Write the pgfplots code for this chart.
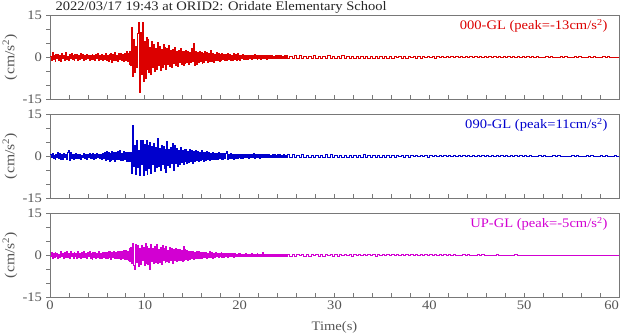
\documentclass[border=0pt]{standalone}
\usepackage{fontspec}
\setmainfont{Liberation Serif}[FakeStretch=1.12]
\usepackage{pgfplots}
\usepackage{pgfplotstable}
\pgfplotsset{compat=1.18}
\definecolor{trA}{RGB}{220,0,0}
\definecolor{trB}{RGB}{0,0,205}
\definecolor{trC}{RGB}{210,0,210}
\definecolor{fr}{RGB}{120,120,120}
\definecolor{tx}{RGB}{85,85,85}

\pgfplotstableread{
t a b c
0.0 0.3 0.5 -0.4
0.1 -1.2 -0.6 0.9
0.2 1.8 1.0 -1.2
0.3 -0.8 -0.9 0.6
0.4 0.5 0.4 -0.8
0.5 -1.4 -1.1 1.1
0.6 0.9 0.8 -0.5
0.7 -0.3 -0.4 0.8
0.8 1.1 1.2 -1.3
0.9 -1.0 -0.7 0.4
1.0 0.6 0.9 -0.9
1.1 -1.6 -1.3 1.4
1.2 1.3 0.6 -0.6
1.3 -0.5 -1.0 0.7
1.4 0.8 1.1 -1.1
1.5 -1.1 -0.5 0.9
1.6 1.6 0.7 -0.7
1.7 -0.7 -1.2 1.2
1.8 0.4 1.4 -0.9
1.9 -1.3 2.1 0.5
2.0 1.0 -1.4 -1.0
2.1 -0.6 1.2 1.3
2.2 1.2 -0.9 -0.6
2.3 -0.9 0.8 0.8
2.4 0.7 -1.1 -1.2
2.5 -1.2 0.6 1.0
2.6 0.9 -0.8 -0.4
2.7 -0.4 1.0 0.7
2.8 1.1 -0.7 -1.1
2.9 -1.0 0.5 1.2
3.0 0.5 -0.9 -0.8
3.1 -0.8 0.7 0.6
3.2 1.2 -1.0 -1.3
3.3 -0.6 0.4 0.9
3.4 0.9 -0.6 -0.7
3.5 -1.1 0.9 1.4
3.6 0.6 -0.8 -0.9
3.7 -0.9 0.6 0.7
3.8 1.0 -1.2 -1.2
3.9 -0.5 0.8 1.0
4.0 0.8 -0.5 -0.6
4.1 -1.2 1.0 1.3
4.2 0.7 -0.9 -1.0
4.3 -0.8 0.5 0.8
4.4 1.1 -0.7 -1.4
4.5 -0.7 0.9 0.9
4.6 0.5 -1.0 -0.7
4.7 -1.0 0.6 1.1
4.8 0.9 -0.8 -1.2
4.9 -0.6 1.1 0.6
5.0 1.2 -0.6 -0.9
5.1 -1.1 0.8 1.2
5.2 0.8 -0.9 -1.1
5.3 -0.7 0.7 0.8
5.4 1.0 -1.0 -1.3
5.5 -1.3 0.9 1.0
5.6 0.6 -0.7 -0.8
5.7 -0.9 1.2 1.1
5.8 1.4 -1.5 -1.2
5.9 -1.0 1.8 0.9
6.0 0.8 -1.2 -1.0
6.1 -1.5 1.3 1.3
6.2 1.1 -1.9 -0.9
6.3 -0.8 1.0 1.2
6.4 1.3 -1.4 -1.4
6.5 -1.7 1.6 1.1
6.6 0.9 -1.1 -0.8
6.7 -1.1 1.4 1.3
6.8 1.6 -1.8 -1.2
6.9 -1.2 1.2 1.0
7.0 0.7 -1.0 -1.1
7.1 -1.4 1.7 1.4
7.2 1.2 -1.3 -1.0
7.3 -0.9 1.9 1.2
7.4 1.5 -1.5 -1.5
7.5 -1.3 1.1 1.3
7.6 1.0 -1.6 -1.2
7.7 -1.6 1.8 1.6
7.8 1.4 -1.2 -1.4
7.9 -1.1 1.5 1.8
8.0 1.9 -1.7 -1.6
8.1 -1.5 1.4 1.5
8.2 1.3 -1.9 -2.0
8.3 -2.5 1.2 2.4
8.4 2.2 -2.0 -2.2
8.5 -3.0 1.5 2.8
8.6 10.8 -6.0 -3.0
8.7 -7.0 11.0 4.3
8.8 6.2 -3.5 -3.5
8.9 -5.5 4.0 -5.2
9.0 4.0 -6.5 3.8
9.1 -3.5 5.5 -2.6
9.2 8.5 -4.0 3.4
9.3 12.4 2.0 -4.0
9.4 -12.4 -6.8 2.5
9.5 9.0 5.8 -3.2
9.6 -6.0 -3.0 3.6
9.7 12.5 5.6 -2.0
9.8 -8.8 -7.0 2.9
9.9 5.5 4.2 -3.6
10.0 -7.4 -5.0 4.2
10.1 7.0 5.5 -2.8
10.2 -4.5 -6.5 3.0
10.3 6.5 3.8 -3.3
10.4 -5.5 -4.5 2.4
10.5 3.5 5.0 -5.0
10.6 -6.2 -6.0 3.8
10.7 5.8 3.5 -2.2
10.8 -3.8 -3.0 2.6
10.9 4.5 4.5 -2.9
11.0 -5.0 -5.5 3.2
11.1 3.2 3.0 -2.5
11.2 -4.2 -4.0 3.9
11.3 5.2 6.2 -3.0
11.4 -3.0 -3.5 2.1
11.5 4.0 2.8 -2.7
11.6 -4.8 -5.2 2.8
11.7 2.8 4.0 -3.4
11.8 -3.5 -3.0 3.5
11.9 4.6 3.5 -2.0
12.0 -2.6 -4.5 2.4
12.1 3.4 2.6 -2.6
12.2 -4.5 -5.8 3.3
12.3 3.0 5.4 -2.2
12.4 -2.4 -3.2 1.8
12.5 4.2 2.4 -2.5
12.6 -3.2 -4.0 2.9
12.7 2.4 3.0 -2.0
12.8 -3.8 -2.6 2.5
12.9 2.7 4.6 -2.8
13.0 -2.2 -5.0 2.1
13.1 3.6 3.8 -1.8
13.2 -2.9 -2.5 2.6
13.3 2.1 2.8 -2.3
13.4 -3.3 -3.6 1.9
13.5 2.6 2.2 -2.0
13.6 -2.0 -2.8 2.2
13.7 3.0 3.3 -1.7
13.8 -2.6 -2.2 1.6
13.9 2.2 2.0 -2.1
14.0 -2.8 -3.0 3.2
14.1 1.9 2.6 -1.8
14.2 -2.3 -1.9 2.0
14.3 2.5 2.4 -1.5
14.4 -1.8 -2.6 1.7
14.5 2.2 1.8 -1.9
14.6 -2.6 -2.2 1.4
14.7 1.7 2.5 -1.6
14.8 -2.0 -1.7 1.5
14.9 3.0 2.1 -1.2
15.0 -1.6 -2.4 1.3
15.1 4.8 1.6 -1.5
15.2 -3.0 -1.9 1.1
15.3 2.0 2.0 -1.3
15.4 -2.4 -1.5 1.2
15.5 1.6 1.7 -1.0
15.6 -1.9 -2.0 1.3
15.7 2.1 1.4 -1.1
15.8 -1.5 -1.6 0.9
15.9 1.8 1.9 -1.2
16.0 -2.2 -1.3 1.0
16.1 1.4 1.5 -0.9
16.2 -1.7 -1.8 1.1
16.3 2.0 1.2 -0.8
16.4 -1.3 -1.4 1.0
16.5 1.6 1.6 -1.1
16.6 -1.9 -1.1 0.8
16.7 1.2 1.3 -0.9
16.8 -1.5 -1.5 1.2
16.9 2.3 1.0 -0.7
17.0 -1.4 -1.2 0.9
17.1 1.5 1.4 -1.0
17.2 -1.8 -1.0 0.7
17.3 1.1 1.1 -0.8
17.4 -1.3 -1.3 1.0
17.5 1.7 0.9 -0.6
17.6 -1.0 -1.1 0.8
17.7 1.3 1.2 -0.9
17.8 -1.6 -0.8 0.7
17.9 1.0 1.0 -0.6
18.0 -1.2 -1.2 0.9
18.1 1.4 0.9 -0.7
18.2 -0.9 -1.0 0.6
18.3 1.1 1.1 -0.8
18.4 -1.3 -0.8 0.7
18.5 0.9 1.0 -0.5
18.6 -1.1 1.6 0.6
18.7 1.2 -1.1 -0.7
18.8 -0.8 0.8 0.5
18.9 1.0 -0.9 -0.6
19.0 -1.2 0.9 0.8
19.1 0.8 -0.7 -0.5
19.2 -1.0 0.8 0.6
19.3 1.3 -1.0 -0.7
19.4 -0.7 0.7 0.5
19.5 0.9 -0.8 -0.6
19.6 -1.1 0.6 0.4
19.7 1.4 -0.9 -0.5
19.8 -0.8 0.7 0.6
19.9 0.7 -0.6 -0.4
20.0 -1.0 0.8 0.5
20.1 0.8 -0.7 -0.5
20.2 -0.6 0.6 0.4
20.3 0.9 -0.8 -0.5
20.4 -0.7 0.5 0.3
20.5 0.6 -0.6 -0.4
20.6 -0.9 0.7 0.5
20.7 0.5 -0.5 -0.3
20.8 -0.7 0.6 0.4
20.9 0.8 -0.7 -0.5
21.0 -0.5 0.5 0.3
21.1 0.7 -0.6 -0.4
21.2 -0.8 0.8 0.5
21.3 0.6 -0.5 -0.3
21.4 -0.6 0.9 0.4
21.5 0.9 -0.7 -0.5
21.6 -0.5 0.6 0.3
21.7 0.7 -0.5 -0.4
21.8 -0.8 0.7 0.5
21.9 0.5 -0.6 -0.3
22.0 -0.6 0.5 0.4
22.1 0.8 -0.7 -0.5
22.2 -0.7 0.6 0.3
22.3 0.5 -0.5 -0.4
22.4 -0.6 0.7 0.9
22.5 0.7 -0.6 -0.5
22.6 -0.5 0.5 0.4
22.7 0.6 -0.6 -0.3
22.8 -0.7 0.5 0.4
22.9 0.5 -0.4 -0.3
23.0 -0.6 0.6 0.3
23.1 0.7 -0.5 -0.4
23.2 -0.4 0.4 0.3
23.3 0.6 -0.6 -0.3
23.4 -0.5 0.5 0.4
23.5 0.4 -0.4 -0.3
23.6 -0.6 0.6 0.3
23.7 0.5 -0.5 -0.4
23.8 -0.4 0.4 0.3
23.9 0.6 -0.5 -0.3
24.0 -0.5 0.6 0.4
24.1 0.7 -0.4 -0.3
24.2 -0.4 0.5 0.3
24.3 0.5 -0.6 -0.4
24.4 -0.6 0.4 0.3
24.5 0.4 -0.5 -0.3
24.6 -0.5 0.5 0.4
24.7 0.6 -0.4 -0.3
24.8 -0.4 0.4 0.2
24.9 0.5 -0.5 -0.3
25.00 -0.6 0.5 0.3
25.25 0.4 -0.4 -0.3
25.50 -0.5 0.5 0.3
25.75 0.5 -0.5 -0.3
26.00 -0.4 0.4 0.3
26.25 0.6 -0.4 -0.2
26.50 -0.4 0.5 0.3
26.75 0.4 -0.4 -0.3
27.00 -0.5 0.4 0.2
27.25 0.4 -0.5 -0.3
27.50 -0.4 0.4 0.3
27.75 0.5 -0.4 -0.2
28.00 -0.4 0.4 0.3
28.25 0.4 -0.4 -0.3
28.50 -0.5 0.3 0.2
28.75 0.4 -0.4 -0.3
29.00 -0.4 0.5 0.3
29.25 0.5 -0.4 -0.2
29.50 -0.3 0.6 0.3
29.75 0.4 -0.4 -0.3
30.00 -0.4 0.4 0.2
30.25 0.3 -0.3 -0.3
30.50 -0.4 0.4 0.2
30.75 0.5 -0.3 -0.2
31.00 -0.3 0.4 0.3
31.25 0.4 -0.4 -0.2
31.50 -0.4 0.3 0.2
31.75 0.3 -0.4 -0.3
32.00 -0.4 0.3 0.2
32.25 0.4 -0.3 -0.2
32.50 -0.3 0.4 0.2
32.75 0.4 -0.5 -0.2
33.00 -0.3 0.5 0.3
33.25 0.3 -0.3 -0.2
33.50 -0.4 0.3 0.2
33.75 0.3 -0.4 -0.2
34.00 -0.3 0.3 0.2
34.25 0.4 -0.3 -0.3
34.50 -0.3 0.3 0.2
34.75 0.3 -0.3 -0.2
35.00 -0.3 0.4 0.3
35.25 0.3 -0.3 -0.2
35.50 -0.3 0.3 0.2
35.75 0.2 -0.3 -0.2
36.00 -0.3 0.2 0.2
36.25 0.3 -0.3 -0.2
36.50 -0.2 0.3 0.3
36.75 0.3 -0.2 -0.2
37.00 -0.3 0.3 0.2
37.25 0.2 -0.3 -0.2
37.50 -0.3 0.2 0.2
37.75 0.3 -0.3 -0.2
38.00 -0.2 0.3 0.2
38.25 0.3 -0.2 -0.2
38.50 -0.3 0.3 0.2
38.75 0.2 -0.2 -0.2
39.00 -0.3 0.3 0.2
39.25 0.2 -0.2 -0.2
39.50 -0.2 0.2 0.2
39.75 0.3 -0.3 -0.2
40.00 -0.2 0.2 0.2
40.25 0.2 -0.2 -0.2
40.50 -0.3 0.3 0.2
40.75 0.2 -0.2 -0.2
41.00 -0.2 0.2 0.2
41.25 0.3 -0.2 -0.2
41.50 -0.2 0.3 0.2
41.75 0.2 -0.2 -0.2
42.00 -0.2 0.2 0.2
42.25 0.2 -0.2 -0.1
42.50 -0.2 0.2 0.2
42.75 0.3 -0.2 -0.2
43.00 -0.2 0.2 0.1
43.25 0.2 -0.2 -0.2
43.50 -0.2 0.2 0.2
43.75 0.2 -0.2 -0.1
44.00 -0.2 0.2 0.2
44.25 0.2 -0.2 -0.2
44.50 -0.2 0.2 0.1
44.75 0.2 -0.2 -0.2
45.00 -0.2 0.2 0.2
45.25 0.2 -0.2 -0.1
45.50 -0.2 0.2 0.2
45.75 0.2 -0.2 -0.2
46.00 -0.2 0.2 0.1
46.25 0.2 -0.2 -0.2
46.50 -0.2 0.2 0.1
46.75 0.2 -0.2 -0.1
47.00 -0.2 0.2 0.2
47.25 0.2 -0.2 -0.1
47.50 -0.2 0.2 0.1
47.75 0.2 -0.2 -0.2
48.00 -0.2 0.2 0.1
48.25 0.2 -0.2 -0.1
48.50 -0.2 0.2 0.1
48.75 0.2 -0.2 -0.1
49.00 -0.2 0.2 0.2
49.25 0.2 -0.2 -0.1
49.50 -0.2 0.2 0.1
49.75 0.2 -0.2 -0.1
50.00 -0.2 0.2 0.1
50.25 0.2 -0.1 -0.1
50.50 -0.2 0.2 0.1
50.75 0.2 -0.2 -0.1
51.00 -0.1 0.1 0.1
51.25 0.2 -0.2 -0.1
51.50 -0.2 0.2 0.1
51.75 0.1 -0.1 -0.1
52.00 -0.2 0.2 0.1
52.25 0.2 -0.2 -0.1
52.50 -0.1 0.1 0.1
52.75 0.2 -0.2 -0.1
53.00 -0.2 0.2 0.1
53.25 0.1 -0.1 -0.1
53.50 -0.2 0.2 0.1
53.75 0.2 -0.2 -0.1
54.00 -0.1 0.1 0.1
54.25 0.2 -0.2 -0.1
54.50 -0.2 0.1 0.1
54.75 0.1 -0.2 -0.1
55.00 -0.2 0.2 0.1
55.25 0.2 -0.1 -0.1
55.50 -0.1 0.2 0.1
55.75 0.2 -0.2 -0.1
56.00 -0.2 0.1 0.1
56.25 0.1 -0.2 -0.1
56.50 -0.2 0.2 0.1
56.75 0.2 -0.1 -0.1
57.00 -0.1 0.2 0.1
57.25 0.2 -0.2 -0.1
57.50 -0.2 0.1 0.1
57.75 0.1 -0.2 -0.1
58.00 -0.2 0.2 0.1
58.25 0.2 -0.1 -0.1
58.50 -0.1 0.2 0.1
58.75 0.2 -0.2 -0.1
59.00 -0.2 0.1 0.1
59.25 0.1 -0.2 -0.1
59.50 -0.2 0.2 0.1
59.75 0.1 -0.1 -0.1
60.00 -0.1 0.1 0.1
}\wave

\pgfplotsset{seis/.style={
  scale only axis, width=569pt, height=84pt,
  xmin=0, xmax=60, ymin=-15, ymax=15,
  axis line style={fr, line width=0.8pt},
  xtick={0,10,...,60}, minor xtick={0,2,...,60},
  xticklabels={0,10,20,30,40,50,\makebox[0pt][r]{60}},
  ytick={-15,0,15}, minor ytick={-10,-5,5,10},
  xtick pos=lower, ytick pos=left,
  tick align=inside,
  major tick length=4pt, minor tick length=4pt,
  tick style={fr, line width=0.8pt},
  y tick style={xshift=-4pt},
  /pgf/number format/assume math mode=true,
  tick label style={font=\fontsize{13}{15}\selectfont, text=tx},
  yticklabel style={xshift=-4.5pt},
  ylabel={(cm/s\textsuperscript{2})},
  every axis y label/.style={at={(axis description cs:-0.0703,0.5)}, rotate=90, anchor=center, font=\fontsize{14}{16}\selectfont, text=tx},
}}
\tikzset{lbl/.style={anchor=base east, xshift=-8pt, yshift=-15pt, font=\fontsize{13}{15}\selectfont}}

\begin{document}
\begin{tikzpicture}
\useasboundingbox (0,0) rectangle (620pt,334pt);
\begin{axis}[seis, name=p1, at={(50pt,235pt)}, anchor=south west, xticklabels={}]
\addplot[draw=trA, line width=0.4pt, mark=none, const plot] table[x=t, y=a] {\wave};
\end{axis}
\begin{axis}[seis, name=p2, at={(50pt,136pt)}, anchor=south west, xticklabels={}]
\addplot[draw=trB, line width=0.4pt, mark=none, const plot] table[x=t, y=b] {\wave};
\end{axis}
\begin{axis}[seis, name=p3, at={(50pt,37pt)}, anchor=south west,
  xlabel={Time(s)},
  every axis x label/.style={at={(axis description cs:0.5,0)}, anchor=base, yshift=-33pt, font=\fontsize{13}{15}\selectfont, text=tx}]
\addplot[draw=trC, line width=0.4pt, mark=none, const plot] table[x=t, y=c] {\wave};
\end{axis}
\node[lbl, text=trA] at (p1.north east) {000-GL (peak=-13cm/s\textsuperscript{2})};
\node[lbl, text=trB] at (p2.north east) {090-GL (peak=11cm/s\textsuperscript{2})};
\node[lbl, text=trC] at (p3.north east) {UP-GL (peak=-5cm/s\textsuperscript{2})};
\node[anchor=base west, xshift=2pt, yshift=4pt, text=black!85, font=\fontsize{13}{15}\selectfont] at (p1.north west) {2022/03/17 19:43 at ORID2: Oridate Elementary School};
\end{tikzpicture}
\end{document}
